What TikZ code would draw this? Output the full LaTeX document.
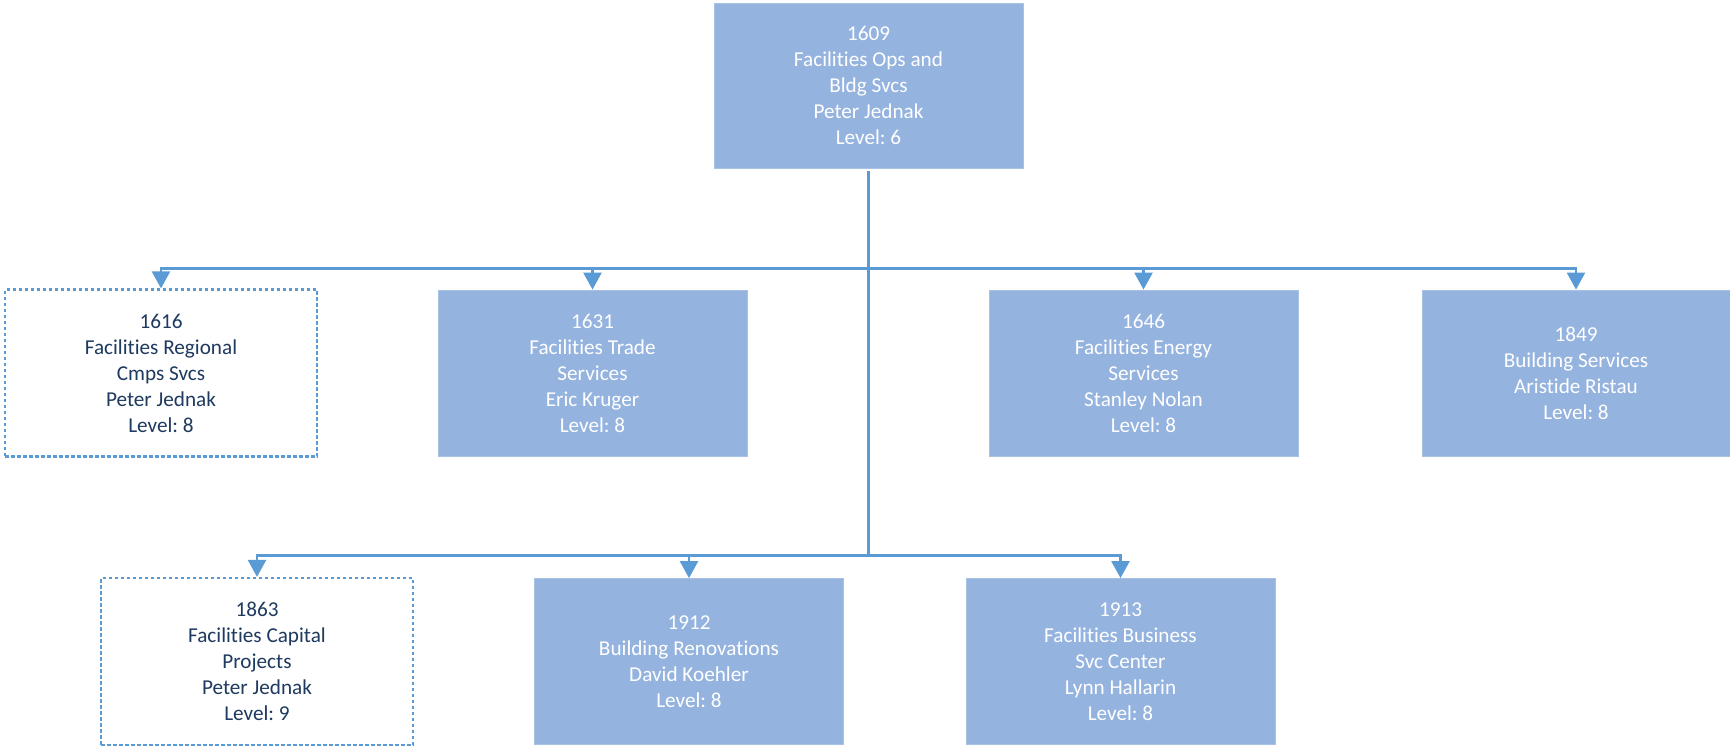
\documentclass[tikz,border=0pt]{standalone}
\usepackage{fontspec}
\setmainfont{Carlito}[Ligatures={NoCommon}]
\frenchspacing
\usetikzlibrary{arrows.meta}
\definecolor{boxfill}{HTML}{95B3DF}
\definecolor{boxedge}{HTML}{A8C2E6}
\definecolor{linec}{HTML}{5B9BD5}
\definecolor{navy}{HTML}{1F3A5F}
\tikzset{
  orgbox/.style={rectangle, fill=boxfill, draw=boxedge, line width=0.8pt, text=white,
    minimum width=309pt, minimum height=166pt, inner sep=0pt, align=center,
    font=\fontsize{21.2}{26}\selectfont},
  vacbox/.style={orgbox, fill=white, draw=linec, line width=2.2pt, text=navy,
    dash pattern=on 3.5pt off 2.5pt, minimum width=312pt, minimum height=167pt},
  conn/.style={draw=linec, line width=2.5pt, -{Triangle[width=18pt,length=17pt]}}
}
\begin{document}
\begin{tikzpicture}[x=1pt,y=-1pt]
\useasboundingbox (0,0) rectangle (1730,746);
\node[orgbox, minimum height=165pt] (n1609) at (868.5,85.5) {1609\\Facilities Ops and\\Bldg Svcs\\Peter Jednak\\Level: 6};
\node[vacbox] (n1616) at (161,373) {1616\\Facilities Regional\\Cmps Svcs\\Peter Jednak\\Level: 8};
\node[orgbox] (n1631) at (592.5,373) {1631\\Facilities Trade\\Services\\Eric Kruger\\Level: 8};
\node[orgbox] (n1646) at (1143.5,373) {1646\\Facilities Energy\\Services\\Stanley Nolan\\Level: 8};
\node[orgbox, minimum width=308pt] (n1849) at (1576,373) {1849\\Building Services\\Aristide Ristau\\Level: 8};
\node[vacbox] (n1863) at (257,661.5) {1863\\Facilities Capital\\Projects\\Peter Jednak\\Level: 9};
\node[orgbox] (n1912) at (689,661.5) {1912\\Building Renovations\\David Koehler\\Level: 8};
\node[orgbox] (n1913) at (1120.5,661.5) {1913\\Facilities Business\\Svc Center\\Lynn Hallarin\\Level: 8};
\foreach \c in {n1616,n1631,n1646,n1849}
  \draw[conn] ([yshift=-3pt]n1609.south) -- ++(0,97) -| (\c.north);
\foreach \c in {n1863,n1912,n1913}
  \draw[conn] ([yshift=-3pt]n1609.south) -- ++(0,384) -| (\c.north);
\end{tikzpicture}
\end{document}
